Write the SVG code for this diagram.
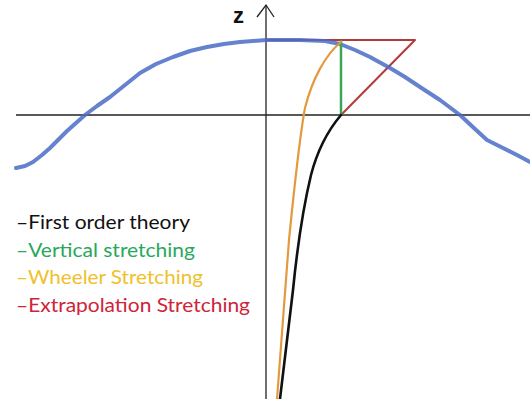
<svg xmlns="http://www.w3.org/2000/svg" width="530" height="399" viewBox="0 0 530 399">
<style>
.axis{stroke:#222;stroke-width:1.3;fill:none}
.curve{fill:none;stroke-linecap:round;stroke-linejoin:round}
.leg{font-family:"Lato","Liberation Sans",sans-serif;font-size:19.5px}
</style>
<rect width="530" height="399" fill="#fff"/>
<g id="axes">
<line class="axis" x1="16" y1="115" x2="530" y2="115"/>
<line class="axis" x1="266" y1="5" x2="266" y2="399"/>
<polyline class="axis" points="257,17 266,5 274,17"/>
<text x="233" y="23" font-family="Liberation Sans,sans-serif" font-weight="bold" font-size="22" fill="#111">z</text>
</g>
<g id="connectors">
<g id="extrapolation">
<polyline class="curve" points="266,40 415,40 341,115" stroke="#b23a3a" stroke-width="2"/>
</g>
<g id="wave">
<path class="curve" stroke="#4a6cc5" stroke-width="4" stroke-opacity="0.85" d="M16,168 L25,166 L33,162 L42,155 L50,148 L58,140 L67,131 L76,123 L85,115 L97,106 L110,97 L125,85 L140,73 L156,64 L173,57 L190,51 L207,47 L224,44 L240,42 L266,40 L300,40 L325,41 L340,44 L355,50 L370,57 L390,68 L405,77 L420,87 L440,100 L460,115 L475,129 L487,140 L503,148 L517,155 L530,162"/>
</g>
<g id="vertical">
<line x1="341" y1="40" x2="341" y2="115" stroke="#3aa655" stroke-width="2.5"/>
</g>
<g id="wheeler">
<path class="curve" stroke="#e39a3c" stroke-width="2.2" d="M341,42 C325,55 312,80 305,108 C299,140 294,190 289,240 L277,399"/>
</g>
<g id="first-order">
<path class="curve" stroke="#111" stroke-width="2.6" d="M341,115 C330,128 318,148 311,175 C305,200 298,240 293,290 L280,399"/>
</g>
</g>
<g id="legend">
<text class="leg" x="16" y="229" fill="#111" textLength="174" lengthAdjust="spacingAndGlyphs">–First order theory</text>
<text class="leg" x="16" y="257" fill="#27a85c" textLength="179" lengthAdjust="spacingAndGlyphs">–Vertical stretching</text>
<text class="leg" x="16" y="284" fill="#f0c02a" textLength="187" lengthAdjust="spacingAndGlyphs">–Wheeler Stretching</text>
<text class="leg" x="16" y="312" fill="#cf2438" textLength="234" lengthAdjust="spacingAndGlyphs">–Extrapolation Stretching</text>
</g>
</svg>
